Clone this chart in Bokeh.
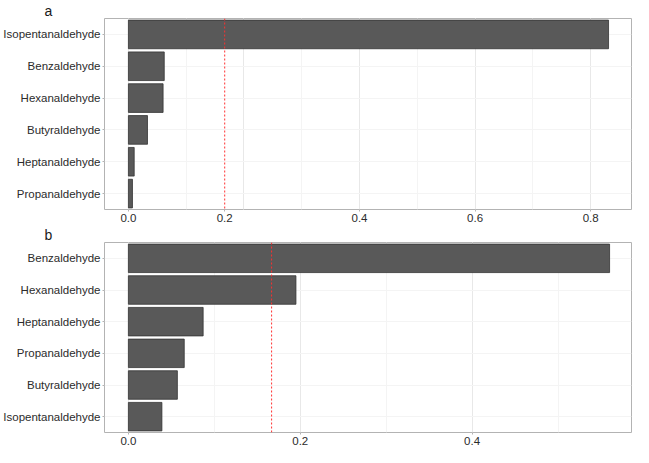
from bokeh.plotting import figure
from bokeh.layouts import column
from bokeh.models import (FixedTicker, SingleIntervalTicker, NumeralTickFormatter,
                          Span, ColumnDataSource, Range1d, FactorRange)
from bokeh.embed import file_html
from bokeh.resources import INLINE

# Panel a
cats_a = ["Isopentanaldehyde", "Benzaldehyde", "Hexanaldehyde",
          "Butyraldehyde", "Heptanaldehyde", "Propanaldehyde"]
vals_a = [0.831, 0.062, 0.060, 0.033, 0.010, 0.007]
ticks_a = [0.0, 1 / 6, 0.4, 0.6, 0.8]

# Panel b
cats_b = ["Benzaldehyde", "Hexanaldehyde", "Heptanaldehyde",
          "Propanaldehyde", "Butyraldehyde", "Isopentanaldehyde"]
vals_b = [0.560, 0.195, 0.087, 0.065, 0.057, 0.039]
ticks_b = [0.0, 0.2, 0.4]

threshold = 1 / 6
FONT = "Liberation Sans"


def make_panel(tag, cats, vals, xr, ticks, height):
    src = ColumnDataSource(dict(cat=cats, val=vals))
    p = figure(width=633, height=height, output_backend="svg", toolbar_location=None,
               y_range=FactorRange(factors=list(reversed(cats))),
               x_range=Range1d(*xr), title=tag,
               min_border_left=100, min_border_right=2, min_border_top=0,
               min_border_bottom=0)
    p.title.text_font = FONT
    p.title.text_font_size = "14px"
    p.title.text_font_style = "normal"
    p.title.text_color = "#1a1a1a"
    p.title.align = "left"
    p.title.offset = -60
    p.title.standoff = 0
    p.hbar(y="cat", right="val", left=0, height=0.9, source=src,
           fill_color="#595959", line_color="#333333", line_width=0.8)
    p.add_layout(Span(location=threshold, dimension="height", line_color="#ff3030",
                      line_dash="2 2", line_width=1))
    p.xaxis.ticker = FixedTicker(ticks=ticks)
    p.xaxis.formatter = NumeralTickFormatter(format="0.0")
    p.xgrid.ticker = SingleIntervalTicker(interval=0.2, num_minor_ticks=2)
    p.xgrid.grid_line_color = "#e8e8e8"
    p.xgrid.minor_grid_line_color = "#f4f4f4"
    p.ygrid.grid_line_color = "#f4f4f4"
    for ax in (p.xaxis, p.yaxis):
        ax.axis_line_color = None
        ax.major_tick_line_color = "#b3b3b3"
        ax.major_tick_out = 2
        ax.major_tick_in = 0
        ax.minor_tick_line_color = None
        ax.major_label_text_font = FONT
        ax.major_label_text_font_size = "11.5px"
        ax.major_label_text_color = "#2b2b2b"
        ax.major_label_standoff = 2
    p.outline_line_color = "#b3b3b3"
    p.outline_line_width = 1
    p.background_fill_color = "white"
    return p


pa = make_panel("a", cats_a, vals_a, (-0.0414, 0.8707), ticks_a, 224)
pb = make_panel("b", cats_b, vals_b, (-0.0278, 0.5855), ticks_b, 223)

layout = column(pa, pb, spacing=0)
open("out.html", "w").write(file_html(layout, INLINE))
